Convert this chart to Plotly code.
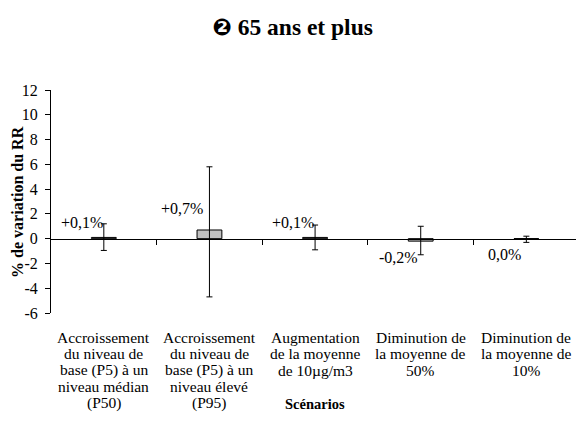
import plotly.graph_objects as go

categories = [
    "Accroissement<br>du niveau de<br>base (P5) à un<br>niveau médian<br>(P50)",
    "Accroissement<br>du niveau de<br>base (P5) à un<br>niveau élevé<br>(P95)",
    "Augmentation<br>de la moyenne<br>de 10µg/m3",
    "Diminution de<br>la moyenne de<br>50%",
    "Diminution de<br>la moyenne de<br>10%",
]
values = [0.1, 0.7, 0.1, -0.2, 0.0]
upper = [1.2, 5.8, 1.1, 1.0, 0.2]
lower = [-0.95, -4.7, -0.9, -1.3, -0.3]
labels = ["+0,1%", "+0,7%", "+0,1%", "-0,2%", "0,0%"]
yticks = [-6, -4, -2, 0, 2, 4, 6, 8, 10, 12]

xs = list(range(len(values)))
FONT = "Liberation Serif"

fig = go.Figure()
fig.add_trace(go.Bar(
    x=xs, y=values, width=0.235,
    marker=dict(color="#c0c0c0", line=dict(color="black", width=1)),
    error_y=dict(type="data", symmetric=False,
                 array=[u - v for u, v in zip(upper, values)],
                 arrayminus=[v - l for v, l in zip(values, lower)],
                 color="black", thickness=1, width=3),
    showlegend=False, hoverinfo="skip",
))

# data labels (Excel-style: left of the bar, above for positive, below for negative)
for i, (v, t) in enumerate(zip(values, labels)):
    if i < 3:
        y, yshift = max(v, 0), 15 + (6 if i == 1 else 0)
    else:
        y, yshift = min(v, 0), -16
    fig.add_annotation(x=i, y=y, text=t, showarrow=False, xshift=-22 if i != 1 else -27,
                       yshift=yshift, font=dict(family=FONT, size=16, color="black"))

# category labels, one annotation per line for tight line spacing
for i, c in enumerate(categories):
    for k, line in enumerate(c.split("<br>")):
        fig.add_annotation(x=i, y=0, yref="paper", text=line, showarrow=False,
                           yanchor="middle", yshift=-(24 + 16.6 * k),
                           font=dict(family=FONT, size=15.5, color="black"))

fig.add_annotation(x=2.0, y=0, yref="paper", yshift=-(404 - 313), text="<b>Scénarios</b>",
                   showarrow=False, yanchor="middle",
                   font=dict(family=FONT, size=14.5, color="black"))
fig.add_annotation(x=-0.064, xref="paper", xanchor="center", y=0.5, yref="paper",
                   yanchor="middle", text="<b>% de variation du RR</b>",
                   textangle=-90, showarrow=False, font=dict(family=FONT, size=16, color="black"))

fig.update_layout(
    width=576, height=425,
    margin=dict(l=51, r=0, t=90, b=112),
    paper_bgcolor="white", plot_bgcolor="white",
    title=dict(text="<b><span style='font-family:DejaVu Sans;font-size:23px'>❷</span> 65 ans et plus</b>",
               x=0.508, xanchor="center", y=1 - 27 / 425, yanchor="middle",
               font=dict(family=FONT, size=23.5, color="black")),
    xaxis=dict(range=[-0.5, 4.47], showgrid=False, zeroline=False,
               tickvals=[0.5, 1.5, 2.5, 3.5], ticks="outside", ticklen=5, tickcolor="black",
               showticklabels=False, showline=True, linecolor="black", linewidth=1,
               anchor="free", position=6 / 18, automargin=False),
    yaxis=dict(range=[-6, 12], tickvals=yticks, ticktext=[str(t) for t in yticks],
               showgrid=False, zeroline=False, showline=True, linecolor="black", linewidth=1,
               ticks="outside", ticklen=5, tickcolor="black", ticklabelstandoff=4,
               tickfont=dict(family=FONT, size=16, color="black"), automargin=False),
)

fig.write_html("out.html", post_script="document.body.style.margin='0';",
               config={"displayModeBar": False})
